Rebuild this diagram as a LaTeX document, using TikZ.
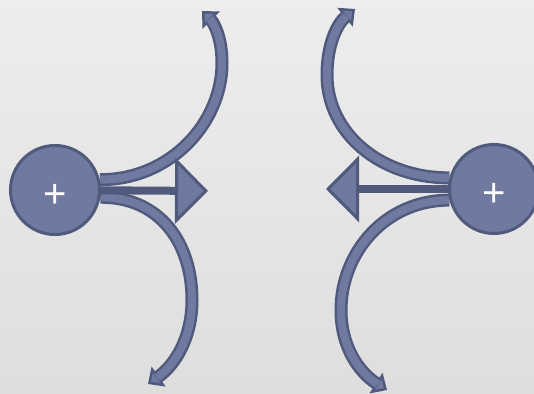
\documentclass[tikz,border=0pt]{standalone}
\usepackage{xcolor}
\usepackage{tikz}
\usepackage{fontspec}
\newfontfamily\chgfont{Liberation Sans}
\usetikzlibrary{arrows.meta,backgrounds}
\definecolor{chargefill}{RGB}{112,122,160}
\definecolor{chargeline}{RGB}{80,90,125}
\definecolor{bgtop}{RGB}{237,237,237}
\definecolor{bgbot}{RGB}{222,222,222}

\begin{document}
\begin{tikzpicture}[x=1pt, y=1pt,
  chg/.style={circle, draw=chargeline, fill=chargefill, line width=3pt, minimum size=89pt,
    inner sep=0pt, text height=35pt, text depth=0pt, text=white, font=\chgfont\fontsize{40}{40}\selectfont},
  band/.style={chargeline, line width=13pt, -{Triangle[length=13pt, width=24pt, fill=chargefill, line width=2.5pt]}},
  bandin/.style={chargefill, line width=8pt, shorten >=11pt},
  shaft/.style={chargeline, line width=8pt, -{Triangle[length=33pt, width=66pt, fill=chargefill, line width=3pt]}}]
\useasboundingbox (0,0) rectangle (534,393);
\node[chg] (lpos) at (55,203) {+};
\node[chg] (rpos) at (494,204) {+};
% free ends of the field lines
\coordinate (luend) at (202,382);
\coordinate (ldend) at (148,9);
\coordinate (ruend) at (355,384);
\coordinate (rdend) at (387,3);
\coordinate (lhead) at (208,202);
\coordinate (rhead) at (326,204);
\begin{scope}[on background layer]
\shade[top color=bgtop, bottom color=bgbot] (0,0) rectangle (534,393);
\foreach \s in {band,bandin} {
  \draw[\s] (lpos.13) .. controls (170,213) and (222,270) .. (222,330)
    .. controls (222,355) and (214,370) .. (luend);
  \draw[\s] (lpos.-9) .. controls (160,196) and (192,150) .. (192,93)
    .. controls (192,55) and (175,28) .. (ldend);
  \draw[\s] (rpos.166) .. controls (380,215) and (327,260) .. (327,318)
    .. controls (327,350) and (338,370) .. (ruend);
  \draw[\s] (rpos.194) .. controls (385,193) and (341,140) .. (341,83)
    .. controls (341,45) and (360,20) .. (rdend);
}
\draw[shaft] (lpos) -- (lhead);
\draw[shaft] (rpos) -- (rhead);
\end{scope}
\end{tikzpicture}
\end{document}
